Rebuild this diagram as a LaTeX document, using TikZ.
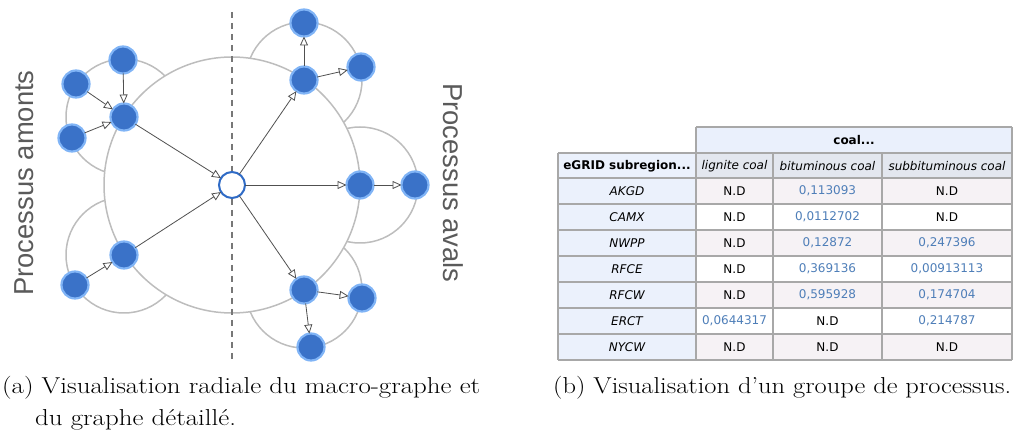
\documentclass[tikz,border=0pt]{standalone}
\usepackage{fontspec}
\usetikzlibrary{arrows.meta}
\newfontfamily\tabfont{DejaVu Sans}
\newfontfamily\labfont{Liberation Sans}
\definecolor{nodeblue}{HTML}{3A72C8}
\definecolor{nodeedge}{HTML}{80B4F6}
\definecolor{centeredge}{HTML}{2F6BC6}
\definecolor{ringgray}{HTML}{BDBDBD}
\definecolor{edgegray}{HTML}{505050}
\definecolor{dashgray}{HTML}{777777}
\definecolor{labgray}{HTML}{5A5A5A}
\definecolor{firstcol}{HTML}{EBF1FC}
\definecolor{headcol}{HTML}{EAF0FC}
\definecolor{subcol}{HTML}{E3E7EF}
\definecolor{oddrow}{HTML}{F6F2F5}
\definecolor{gridgray}{HTML}{A8A8A8}
\definecolor{numblue}{HTML}{4E7EB8}
\begin{document}
\begin{tikzpicture}[x=1pt,y=-1pt,
  proc/.style={circle, fill=nodeblue, draw=nodeedge, line width=2.2pt, minimum size=27pt, inner sep=0pt, outer sep=0pt},
  focus/.style={circle, fill=white, draw=centeredge, line width=2pt, minimum size=26pt, inner sep=0pt, outer sep=0pt},
  ring/.style={draw=ringgray, line width=1.5pt},
  arr/.style={draw=edgegray, line width=0.8pt, -{Triangle[length=9pt,width=8pt,fill=white]}},
  sidelab/.style={font=\labfont\fontsize{27.4}{30}\selectfont, text=labgray, inner sep=0pt},
  cell/.style={font=\tabfont\fontsize{12}{14}\selectfont, inner sep=0pt},
  captext/.style={font=\fontsize{23}{32}\selectfont, anchor=base west, inner sep=0pt}
]
\useasboundingbox (0,0) rectangle (1017,435);
% ---------- left graph ----------
\foreach \c in {(124,117),(124,255),(304,80),(360,185),(304,290)}
  \draw[ring] \c circle (58);
\draw[ring, fill=white] (232,185) circle (128);
\draw[dashgray, line width=1.2pt, dash pattern=on 6pt off 5pt] (232,12) -- (232,360);

\node[focus] (c) at (232,185) {};
\node[proc] (a1) at (124,117) {};
\node[proc] (a11) at (123,60) {};
\node[proc] (a12) at (76,84) {};
\node[proc] (a13) at (72,138) {};
\node[proc] (a2) at (124,255) {};
\node[proc] (a21) at (75,285) {};
\node[proc] (d1) at (304,80) {};
\node[proc] (d11) at (304,23) {};
\node[proc] (d12) at (361,67) {};
\node[proc] (d2) at (360,185) {};
\node[proc] (d21) at (415,185) {};
\node[proc] (d3) at (304,290) {};
\node[proc] (d31) at (362,298) {};
\node[proc] (d32) at (311,347) {};

\draw[arr] (a11) -- (a1);
\draw[arr] (a12) -- (a1);
\draw[arr] (a13) -- (a1);
\draw[arr] (a21) -- (a2);
\draw[arr] (a1) -- (c);
\draw[arr] (a2) -- (c);
\draw[arr] (c) -- (d1);
\draw[arr] (c) -- (d2);
\draw[arr] (c) -- (d3);
\draw[arr] (d1) -- (d11);
\draw[arr] (d1) -- (d12);
\draw[arr] (d2) -- (d21);
\draw[arr] (d3) -- (d31);
\draw[arr] (d3) -- (d32);

\node[sidelab, rotate=90] (up) at (24,183) {Processus amonts};
\node[sidelab, rotate=-90] (down) at (453,183) {Processus avals};

% ---------- table ----------
\fill[headcol] (696,127) rectangle (1012,153);
\fill[firstcol] (558,153) rectangle (696,360);
\fill[subcol] (696,153) rectangle (1012,178);
\foreach \y in {178,230,282,334}
  \fill[oddrow] (696,\y) rectangle (1012,\y+26);
\begin{scope}[draw=gridgray, line width=1.4pt]
\draw (696,127) -- (1012,127);
\draw (558,153) -- (1012,153);
\foreach \y in {178,204,230,256,282,308,334,360}
  \draw (558,\y) -- (1012,\y);
\draw (558,153) -- (558,360);
\draw (696,127) -- (696,360);
\draw (1012,127) -- (1012,360);
\draw (773,153) -- (773,360);
\draw (882,153) -- (882,360);
\end{scope}
\node[cell, font=\tabfont\bfseries\fontsize{12}{14}\selectfont] (hcoal) at (854,140) {coal...};
\node[cell, font=\tabfont\bfseries\fontsize{12}{14}\selectfont] (hreg) at (627,166) {eGRID subregion...};
\node[cell, font=\tabfont\itshape\fontsize{12}{14}\selectfont] (hlig) at (734.5,166) {lignite coal};
\node[cell, font=\tabfont\itshape\fontsize{12}{14}\selectfont] (hbit) at (827.5,166) {bituminous coal};
\node[cell, font=\tabfont\itshape\fontsize{12}{14}\selectfont] (hsub) at (947,166) {subbituminous coal};
\foreach \name/\lig/\bit/\sub [count=\i from 0] in {
  AKGD/N.D/\textcolor{numblue}{0,113093}/N.D,
  CAMX/N.D/\textcolor{numblue}{0,0112702}/N.D,
  NWPP/N.D/\textcolor{numblue}{0,12872}/\textcolor{numblue}{0,247396},
  RFCE/N.D/\textcolor{numblue}{0,369136}/\textcolor{numblue}{0,00913113},
  RFCW/N.D/\textcolor{numblue}{0,595928}/\textcolor{numblue}{0,174704},
  ERCT/\textcolor{numblue}{0,0644317}/N.D/\textcolor{numblue}{0,214787},
  NYCW/N.D/N.D/N.D}{
  \node[cell, font=\tabfont\itshape\fontsize{12}{14}\selectfont] (r\i n) at (627,191+26*\i) {\name};
  \node[cell] (r\i l) at (734.5,191+26*\i) {\lig};
  \node[cell] (r\i b) at (827.5,191+26*\i) {\bit};
  \node[cell] (r\i s) at (947,191+26*\i) {\sub};
}
% ---------- captions ----------
\node[captext] (capa1) at (2,393) {\scalebox{1.17}[1]{(a) Visualisation radiale du macro-graphe et}};
\node[captext] (capa2) at (35,425) {\scalebox{1.17}[1]{du graphe détaillé.}};
\node[captext] (capb) at (553,393) {\scalebox{1.15}[1]{(b) Visualisation d’un groupe de processus.}};
\end{tikzpicture}
\end{document}
